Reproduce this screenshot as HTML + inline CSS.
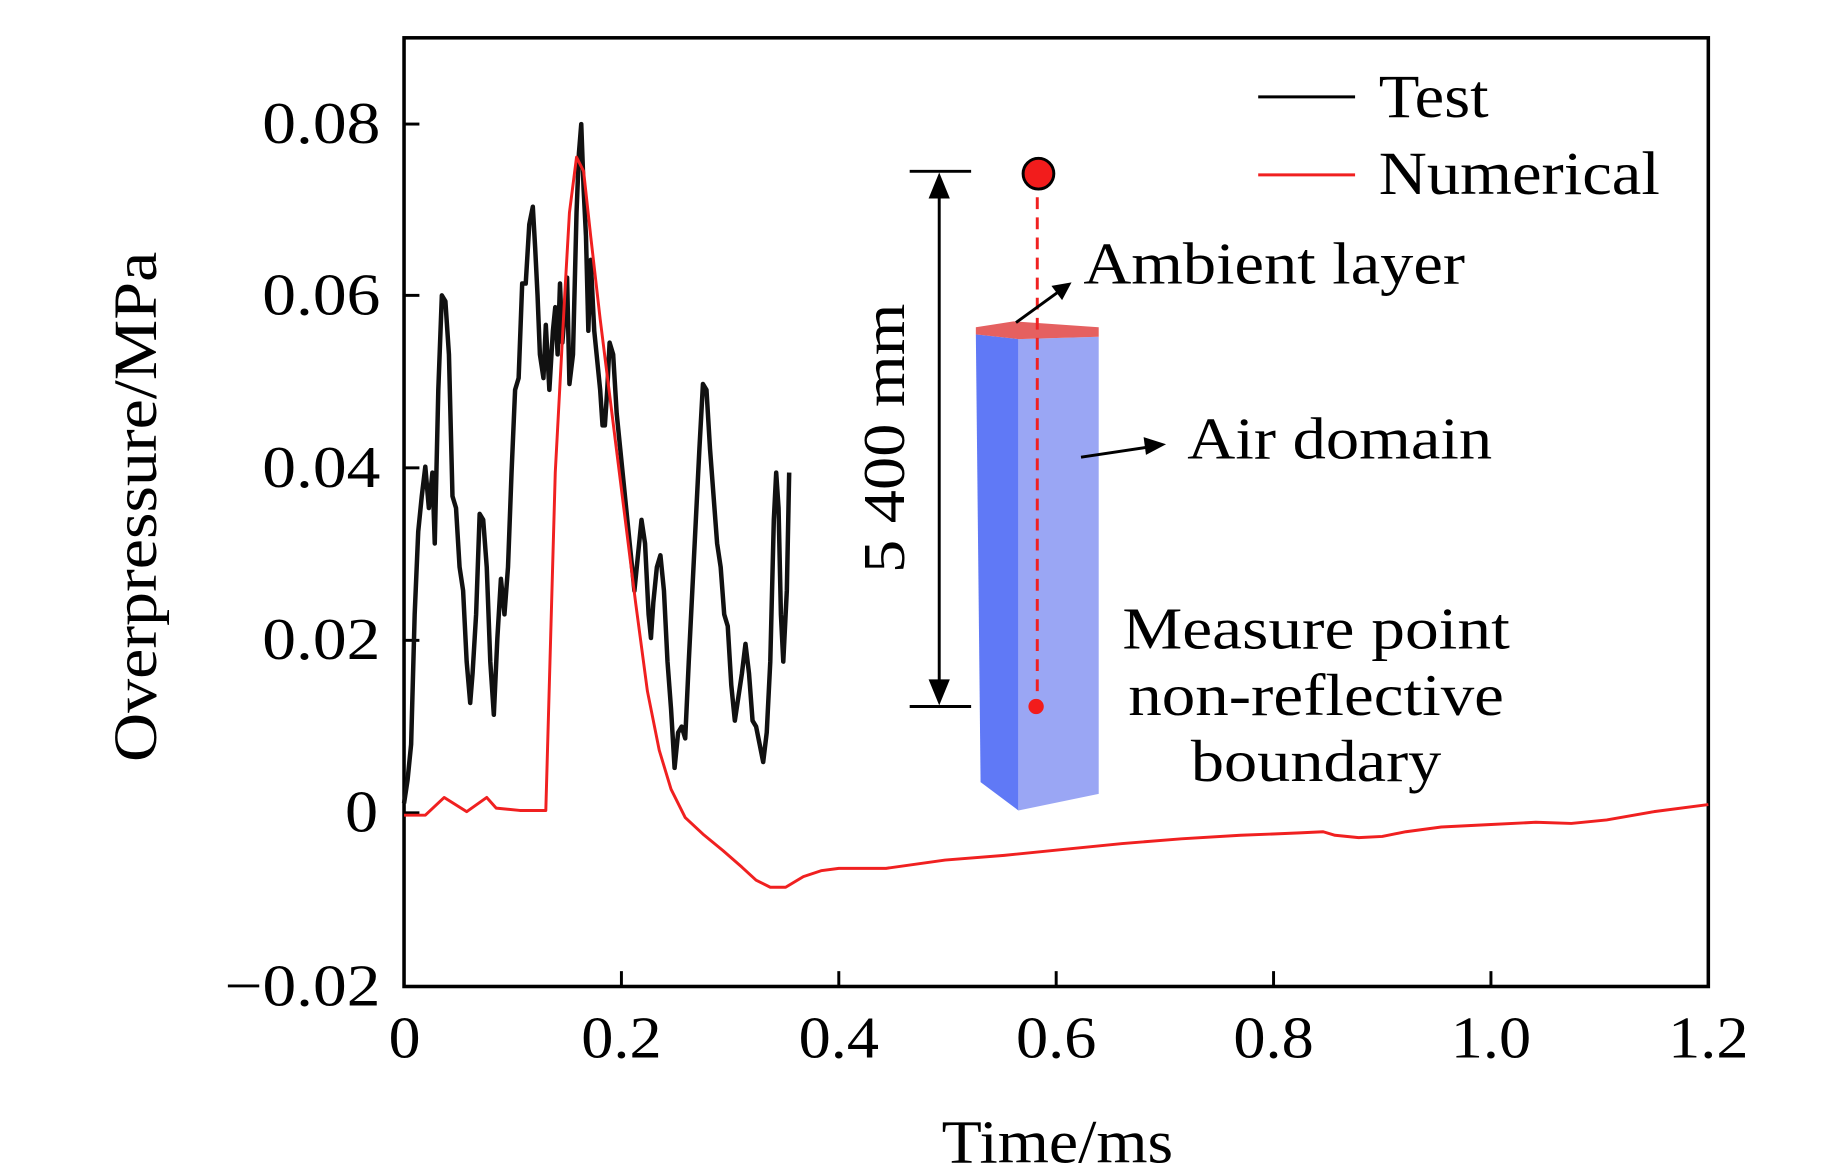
<!DOCTYPE html>
<html><head><meta charset="utf-8"><style>
html,body{margin:0;padding:0;background:#fff;}
svg{display:block;}
text{font-family:"Liberation Serif",serif;fill:#000;}
</style></head><body>
<svg width="1843" height="1174" viewBox="0 0 1560 993.7" xmlns="http://www.w3.org/2000/svg">
<rect width="1560" height="994" fill="#fff"/>
<rect x="342" y="32" width="1104" height="803" fill="none" stroke="#000" stroke-width="3"/>
<g stroke="#000" stroke-width="2.5">
<line x1="342" y1="105" x2="355" y2="105"/><line x1="342" y1="250" x2="355" y2="250"/>
<line x1="342" y1="396" x2="355" y2="396"/><line x1="342" y1="542" x2="355" y2="542"/>
<line x1="342" y1="688" x2="355" y2="688"/>
<line x1="526" y1="835" x2="526" y2="822"/><line x1="710" y1="835" x2="710" y2="822"/>
<line x1="894" y1="835" x2="894" y2="822"/><line x1="1078" y1="835" x2="1078" y2="822"/>
<line x1="1262" y1="835" x2="1262" y2="822"/>
</g>
<g font-size="50" lengthAdjust="spacingAndGlyphs">
<text x="222" y="121" textLength="100" lengthAdjust="spacingAndGlyphs">0.08</text>
<text x="222" y="266" textLength="100" lengthAdjust="spacingAndGlyphs">0.06</text>
<text x="222" y="412" textLength="100" lengthAdjust="spacingAndGlyphs">0.04</text>
<text x="222" y="558" textLength="100" lengthAdjust="spacingAndGlyphs">0.02</text>
<text x="292" y="704" textLength="28" lengthAdjust="spacingAndGlyphs">0</text>
<text x="190" y="851" textLength="132" lengthAdjust="spacingAndGlyphs">−0.02</text>
</g>
<g font-size="50">
<text x="329" y="895" textLength="27" lengthAdjust="spacingAndGlyphs">0</text>
<text x="492" y="895" textLength="68" lengthAdjust="spacingAndGlyphs">0.2</text>
<text x="676" y="895" textLength="68" lengthAdjust="spacingAndGlyphs">0.4</text>
<text x="860" y="895" textLength="68" lengthAdjust="spacingAndGlyphs">0.6</text>
<text x="1044" y="895" textLength="68" lengthAdjust="spacingAndGlyphs">0.8</text>
<text x="1228" y="895" textLength="68" lengthAdjust="spacingAndGlyphs">1.0</text>
<text x="1412" y="895" textLength="68" lengthAdjust="spacingAndGlyphs">1.2</text>
</g>
<text x="797" y="984" font-size="52" textLength="196" lengthAdjust="spacingAndGlyphs">Time/ms</text>
<text transform="translate(132,645) rotate(-90)" font-size="52" textLength="432" lengthAdjust="spacingAndGlyphs">Overpressure/MPa</text>

<polygon points="826,283 862,287 862,686 830,662" fill="#6079f6"/>
<polygon points="862,287 930,285 930,672 862,686" fill="#9aa6f4"/>
<polygon points="826,277 858,272 930,277 930,285 862,287 826,283" fill="#e56060"/>
<line x1="878" y1="150" x2="878" y2="598" stroke="#f02020" stroke-width="2.5" stroke-dasharray="10,7"/>
<circle cx="879" cy="147" r="13" fill="#f21c1c" stroke="#000" stroke-width="2.5"/>
<circle cx="877" cy="598" r="6.5" fill="#f21c1c"/>
<g stroke="#000" stroke-width="2.5" fill="none">
<line x1="770" y1="145" x2="822" y2="145"/><line x1="770" y1="598" x2="822" y2="598"/>
<line x1="795" y1="150" x2="795" y2="593"/>
<line x1="860" y1="273" x2="900" y2="244"/>
<line x1="915" y1="387" x2="975" y2="378"/>
</g>
<polygon points="795,146 786,168 804,168" fill="#000"/>
<polygon points="795,597 786,575 804,575" fill="#000"/>
<polygon points="907,239 890,242 899,254" fill="#000"/>
<polygon points="987,376 968,370 970,385" fill="#000"/>
<text transform="translate(765,485) rotate(-90)" font-size="50" textLength="228" lengthAdjust="spacingAndGlyphs">5 400 mm</text>
<text x="917" y="240" font-size="50" textLength="323" lengthAdjust="spacingAndGlyphs">Ambient layer</text>
<text x="1005" y="388" font-size="50" textLength="258" lengthAdjust="spacingAndGlyphs">Air domain</text>
<text x="950" y="549" font-size="50" textLength="328" lengthAdjust="spacingAndGlyphs">Measure point</text>
<text x="955" y="605" font-size="50" textLength="318" lengthAdjust="spacingAndGlyphs">non-reflective</text>
<text x="1008" y="661" font-size="50" textLength="212" lengthAdjust="spacingAndGlyphs">boundary</text>
<line x1="1065" y1="82" x2="1147" y2="82" stroke="#000" stroke-width="2.5"/>
<line x1="1065" y1="148" x2="1147" y2="148" stroke="#f02020" stroke-width="2.5"/>
<text x="1167" y="99" font-size="52" textLength="93" lengthAdjust="spacingAndGlyphs">Test</text>
<text x="1167" y="164" font-size="52" textLength="238" lengthAdjust="spacingAndGlyphs">Numerical</text>

<polyline fill="none" stroke="#111" stroke-width="3.8" stroke-linejoin="round" points="342,680 345,660 348,630 351,520 354,450 357,420 360,395 363,430 366,400 368,460 371,330 374,250 377,255 380,300 383,420 386,430 389,480 392,500 395,560 398,595 400,570 403,520 406,435 409,440 412,480 415,560 418,605 421,540 424,490 427,520 430,480 433,400 436,330 439,320 442,240 445,240 448,190 451,175 453,210 455,250 457,300 460,320 462,275 465,330 468,280 470,260 472,300 474,240 476,290 478,265 480,235 482,325 485,300 488,180 490,130 492,105 494,160 496,200 498,280 500,220 503,280 505,300 508,330 510,360 512,360 514,330 516,290 519,300 522,350 525,380 528,410 531,440 534,470 537,500 540,470 543,440 546,460 549,520 551,540 553,510 556,480 559,470 562,500 565,560 568,600 571,650 574,620 577,615 580,625 583,560 586,500 589,440 592,380 595,325 598,330 601,380 604,420 607,460 610,480 613,520 616,530 619,580 622,610 625,590 628,570 631,545 634,570 637,610 640,615 643,630 646,645 649,620 652,560 655,440 657,400 659,430 661,520 663,560 666,500 668,400"/>
<polyline fill="none" stroke="#f02020" stroke-width="2.5" stroke-linejoin="round" points="342,690 360,690 376,675 395,687 412,675 420,684 440,686 462,686 470,400 478,250 482,180 488,133 494,145 500,200 508,270 518,350 528,430 538,510 548,585 558,635 568,668 580,692 595,706 612,720 628,734 640,745 652,751 665,751 680,742 695,737 710,735 750,735 800,728 850,724 900,719 950,714 1000,710 1050,707 1100,705 1120,704 1130,707 1150,709 1170,708 1190,704 1220,700 1260,698 1300,696 1330,697 1360,694 1400,687 1446,681"/>
</svg>
</body></html>
